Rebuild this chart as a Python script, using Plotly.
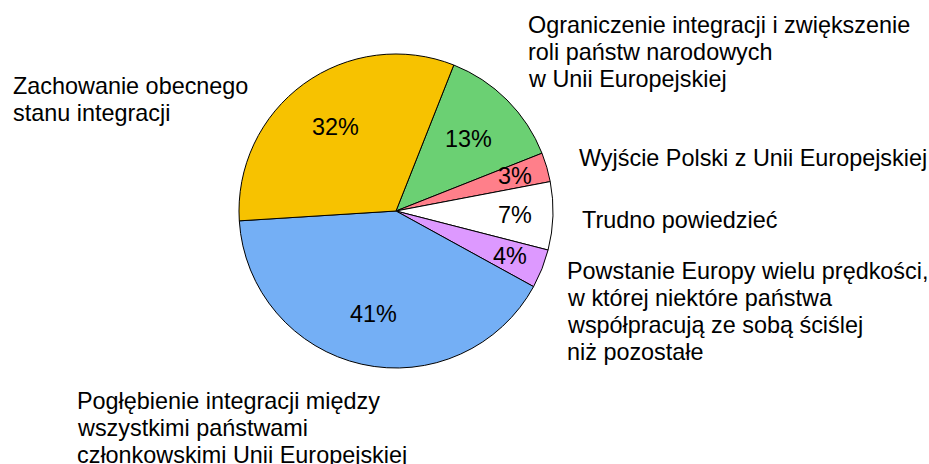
import math
import plotly.graph_objects as go

categories = [
    ["Ograniczenie integracji i zwiększenie", "roli państw narodowych", "w Unii Europejskiej"],
    ["Wyjście Polski z Unii Europejskiej"],
    ["Trudno powiedzieć"],
    ["Powstanie Europy wielu prędkości,", "w której niektóre państwa", "współpracują ze sobą ściślej", "niż pozostałe"],
    ["Pogłębienie integracji między", "wszystkimi państwami", "członkowskimi Unii Europejskiej"],
    ["Zachowanie obecnego", "stanu integracji"],
]
values = [13, 3, 7, 4, 41, 32]
colors = ["#6BD073", "#FF7F8A", "#FFFFFF", "#DD99FF", "#74AFF5", "#F7C200"]

W, H = 929, 464
FONT = "Liberation Sans, Arial, sans-serif"
FS = 23.4
LINE = 27
ROTATION = 21.6

# pie geometry (pixels)
CX, CY, R = 396, 211, 157
# radial placement of the inside percentage labels (fraction of radius)
pct_radius = [0.65, 0.79, 0.76, 0.78, 0.67, 0.66]
# outside label: left x and center y of first line (target pixels)
label_pos = [(527, 25), (578, 158), (581, 220), (566, 271), (76, 401), (12, 86)]


def px(x):
    return x / W


def py(y):
    return 1 - y / H


fig = go.Figure(go.Pie(
    labels=[" ".join(c) for c in categories],
    values=values,
    sort=False,
    direction="clockwise",
    rotation=ROTATION,
    marker=dict(colors=colors, line=dict(color="black", width=1)),
    textinfo="none",
    showlegend=False,
    hoverinfo="label+percent",
    domain=dict(x=[px(CX - R), px(CX + R)], y=[py(CY + R), py(CY - R)]),
))

# percentage labels at the slice mid-angles
total = sum(values)
cum = 0
for v, rf in zip(values, pct_radius):
    mid = math.radians(ROTATION + (cum + v / 2) / total * 360)
    cum += v
    x = CX + rf * R * math.sin(mid)
    y = CY - rf * R * math.cos(mid)
    fig.add_annotation(
        x=px(x), y=py(y), xref="paper", yref="paper",
        text=f"{v}%", showarrow=False, xanchor="center", yanchor="middle",
        font=dict(family=FONT, size=FS, color="black"), borderpad=0,
    )

for lines, (x, y) in zip(categories, label_pos):
    for i, ln in enumerate(lines):
        fig.add_annotation(
            x=px(x), y=py(y + i * LINE), xref="paper", yref="paper",
            text=ln, showarrow=False, xanchor="left", yanchor="middle", align="left",
            font=dict(family=FONT, size=FS, color="black"),
            borderpad=0,
        )

fig.update_layout(
    width=W, height=H,
    margin=dict(l=0, r=0, t=0, b=0),
    paper_bgcolor="white", plot_bgcolor="white",
)

fig.write_html(
    "out.html",
    config={"displayModeBar": False},
    post_script="document.body.style.margin='0';document.body.style.overflow='hidden';",
)
